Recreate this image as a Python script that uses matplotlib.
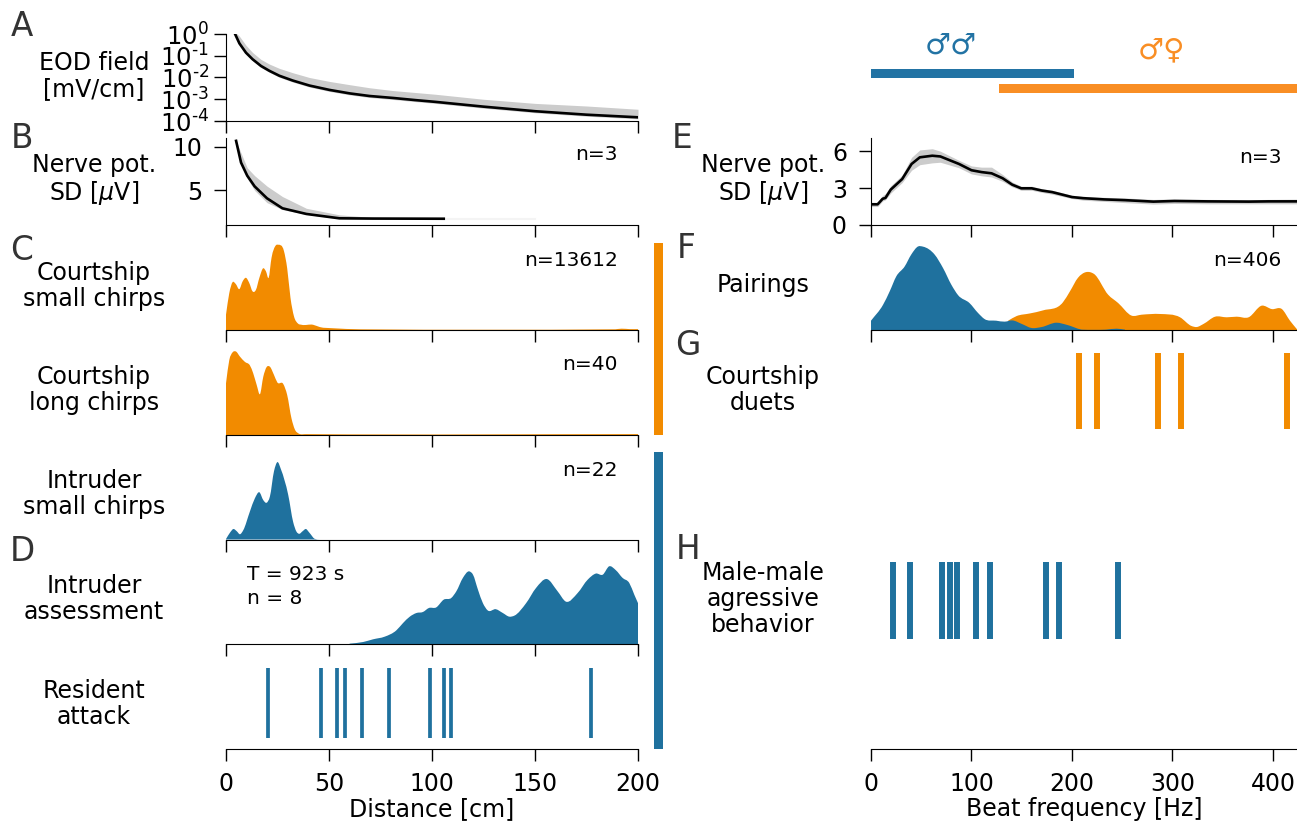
import numpy as np
import matplotlib
matplotlib.use('Agg')
import matplotlib.pyplot as plt
from matplotlib.path import Path
from matplotlib.patches import PathPatch

blue = '#1f719e'
orange = '#f28b00'
grey = '#cccccc'
W, H = 1297., 822.

# A: EOD field, log10 values
eod_x = [4.4, 6.5, 9.7, 12.9, 17, 21, 25.9, 32.4, 40.5, 50.2, 60, 69.6, 81, 92, 101.6, 125, 150, 175, 200]
eod_log = [0, -0.43, -0.86, -1.16, -1.47, -1.69, -1.92, -2.14, -2.37, -2.57, -2.73, -2.85, -2.94, -3.04, -3.12, -3.34, -3.55, -3.71, -3.83]
eod_log_hi = [0.1, -0.1, -0.52, -0.85, -1.17, -1.38, -1.58, -1.78, -2.0, -2.18, -2.33, -2.47, -2.6, -2.69, -2.77, -3.0, -3.19, -3.31, -3.46]
eod_log_lo = [0, -0.5, -0.93, -1.23, -1.54, -1.76, -1.99, -2.21, -2.44, -2.64, -2.8, -2.92, -3.01, -3.11, -3.19, -3.41, -3.62, -3.78, -3.9]
eod_labels = ['$\\mathdefault{10}^{\\mathdefault{0}}$', '$\\mathdefault{10}^{\\text{-1}}$',
              '$\\mathdefault{10}^{\\text{-2}}$', '$\\mathdefault{10}^{\\text{-3}}$',
              '$\\mathdefault{10}^{\\text{-4}}$']

# B: nerve potential vs distance
pot_x = [4.9, 7.3, 10.3, 13.9, 19.9, 27.4, 39, 55, 71, 105.7]
pot_y = [10.7, 8.2, 6.7, 5.47, 4.1, 2.95, 2.3, 1.8, 1.77, 1.75]
pot_hi = [10.7, 9.3, 7.6, 6.7, 5.5, 4.3, 2.95, 2.2, 1.9, 1.75]
pot_lo = [10.7, 8.0, 6.4, 5.0, 3.6, 2.8, 2.25, 1.75, 1.72, 1.72]
tail_x = [105.7, 150]
tail_y = [1.75, 1.75]

# E: nerve potential vs beat frequency
beat_x = [0, 6.6, 11.6, 14.4, 19.7, 31, 40.4, 48.6, 61, 69, 87.6, 100, 110, 120, 131, 140.5, 149.5, 160, 170, 180.5, 200, 211, 232, 252.5, 281, 302, 335, 376, 396, 424]
beat_y = [1.68, 1.68, 2.13, 2.2, 2.88, 3.73, 4.96, 5.5, 5.63, 5.57, 4.96, 4.45, 4.3, 4.2, 3.8, 3.28, 2.98, 2.98, 2.8, 2.67, 2.27, 2.18, 2.08, 2.02, 1.9, 1.95, 1.92, 1.9, 1.92, 1.92]
beat_hi = [1.85, 1.85, 2.4, 2.55, 3.2, 4.05, 5.5, 6.1, 6.2, 6.0, 5.25, 4.8, 4.7, 4.7, 4.1, 3.5, 3.15, 3.15, 2.95, 2.82, 2.42, 2.33, 2.25, 2.2, 2.08, 2.12, 2.08, 2.06, 2.08, 2.1]
beat_lo = [1.5, 1.5, 1.95, 2.05, 2.6, 3.45, 4.45, 4.9, 5.05, 5.1, 4.65, 4.15, 4.0, 3.9, 3.55, 3.1, 2.82, 2.82, 2.65, 2.5, 2.15, 2.02, 1.92, 1.82, 1.7, 1.75, 1.72, 1.72, 1.72, 1.72]

# C
small_x = [0, 1.6, 3.2, 4.7, 6.5, 8.1, 9.7, 11.3, 12.9, 14.5, 16.2, 18.1, 19.4, 20.7, 22.1, 24.2, 25.4, 28.1, 29.7, 31.3, 33, 35, 36.7, 42.3, 45.5, 52, 65, 189, 192, 196, 200]
small_y = [.176, .425, .55, .53, .47, .56, .60, .54, .444, .46, .60, .71, .674, .60, .83, .973, .98, .91, .71, .37, .157, .073, .06, .06, .034, .02, .008, .008, .015, .01, .01]
long_x = [0, 1.6, 3.2, 4.8, 6.8, 9.2, 11.6, 13.2, 14.9, 16.5, 18.1, 19.7, 21.3, 23.3, 24.9, 27.8, 29.7, 31.8, 33.4, 35.4, 39, 200]
long_y = [.594, .862, .95, .96, .90, .84, .80, .71, .575, .47, .67, .78, .785, .69, .605, .586, .46, .19, .065, .015, .01, .01]
intr_x = [0, 1.9, 3.6, 5.2, 6.8, 8.4, 11.6, 14, 16.2, 18.1, 19.7, 21.3, 23.3, 25, 26.7, 30.2, 32.6, 34.2, 35.5, 37.2, 38.8, 40.4, 43, 45.5]
intr_y = [.005, .077, .12, .095, .06, .107, .32, .47, .54, .45, .42, .49, .78, .885, .80, .51, .20, .09, .065, .095, .12, .08, .008, 0]
assess_x = [60, 66.6, 71.4, 77, 82.7, 85.9, 89.2, 92.4, 95.6, 98.5, 102, 105.7, 109.4, 111.8, 115, 117.9, 119.9, 122.3, 124.7, 127, 131, 134.4, 137.6, 140, 145.7, 150.5, 155.7, 161, 165, 170.7, 175.6, 179.6, 182.9, 186, 189.3, 192.5, 195.8, 198.2, 200]
assess_y = [.004, .023, .054, .084, .157, .24, .314, .356, .368, .414, .42, .51, .53, .605, .76, .835, .797, .625, .47, .387, .40, .356, .314, .326, .47, .644, .747, .605, .487, .586, .74, .81, .797, .893, .847, .76, .70, .567, .47]
attack_x = [20.2, 46, 54, 58, 66, 79, 99, 106, 109, 177]

# F
pair_blue_x = [0, 12, 18.6, 25.2, 33.5, 40, 46.8, 51.8, 63.4, 71.8, 80, 86.7, 98, 106.6, 113, 124.6, 133, 141, 150, 159.8, 169.8, 184.7, 194.7, 209.6, 234, 244.5, 252.8]
pair_blue_y = [.107, .29, .444, .617, .73, .866, .96, .958, .866, .71, .52, .40, .31, .195, .126, .107, .096, .11, .07, .023, .034, .084, .06, .004, .004, .015, .004]
pair_or_x = [136.5, 144.9, 158, 171.4, 191, 198, 206, 222, 236, 246, 259.4, 269.4, 287.7, 307.6, 319, 324, 331, 342.5, 354, 364, 375.8, 389, 399, 409, 417, 424]
pair_or_y = [.107, .16, .19, .226, .318, .444, .60, .644, .406, .31, .165, .176, .184, .146, .046, .034, .07, .153, .146, .153, .146, .28, .24, .24, .107, .008]
duets_x = [206.6, 225, 286, 309, 414]
male_x = [21.5, 39, 70.6, 78.6, 85.7, 104.6, 118, 174, 187.5, 245.6]

male_range = [0, 202]
mixed_range = [127, 424]
dist_ticks = [0, 50, 100, 150, 200]
beat_ticks = [0, 100, 200, 300, 400]

plt.rcParams['font.size'] = 17
plt.rcParams['mathtext.fontset'] = 'dejavusans'
fig = plt.figure(figsize=(W / 100, H / 100), dpi=100)


def add_ax(left, top, right, bottom):
    ax = fig.add_axes([left / W, 1 - bottom / H, (right - left) / W, (bottom - top) / H])
    ax.patch.set_alpha(0)
    for s in ['top', 'right']:
        ax.spines[s].set_visible(False)
    ax.tick_params(length=8.3, width=1)
    ax.tick_params(axis='y', pad=9)
    ax.tick_params(axis='x', pad=8)
    return ax


def ftext(x, y, s, **kw):
    kw.setdefault('ha', 'center')
    kw.setdefault('va', 'center')
    fig.text(x / W, 1 - y / H, s, **kw)


def x_axis(ax, xlim, ticks, labels=False, left=False):
    ax.set_xlim(xlim)
    ax.set_xticks(ticks)
    if not labels:
        ax.set_xticklabels([])
    ax.spines['left'].set_visible(left)
    if not left:
        ax.set_yticks([])


def smooth_fill(ax, xs, ys, color):
    # filled outline through the read points, drawn with bezier segments
    xs = np.array(xs, dtype=float)
    ys = np.array(ys, dtype=float)
    m = np.gradient(ys, xs)
    verts = [(xs[0], 0), (xs[0], ys[0])]
    codes = [Path.MOVETO, Path.LINETO]
    for i in range(len(xs) - 1):
        d = (xs[i + 1] - xs[i]) / 3
        verts += [(xs[i] + d, max(ys[i] + m[i] * d, 0)),
                  (xs[i + 1] - d, max(ys[i + 1] - m[i + 1] * d, 0)),
                  (xs[i + 1], ys[i + 1])]
        codes += [Path.CURVE4] * 3
    verts += [(xs[-1], 0), (xs[0], 0)]
    codes += [Path.LINETO, Path.CLOSEPOLY]
    ax.add_patch(PathPatch(Path(verts, codes), facecolor=color, lw=0))


L = (226, 638)
R = (871, 1297)
dist_lim = (0, 200)
beat_lim = (0, 424)

# panel A
ax = add_ax(L[0], 34, L[1], 121)
ax.fill_between(eod_x, 10.0 ** np.array(eod_log_lo), 10.0 ** np.array(eod_log_hi), color=grey, lw=0)
ax.plot(eod_x, 10.0 ** np.array(eod_log), color='k', lw=1.9)
ax.set_yscale('log')
ax.set_ylim(1e-4, 1)
ax.set_yticks([1, 1e-1, 1e-2, 1e-3, 1e-4])
ax.set_yticklabels(eod_labels)
ax.minorticks_off()
x_axis(ax, dist_lim, dist_ticks, left=True)
ax.tick_params(axis='y', labelsize=17.5, pad=4)

# panel B
ax = add_ax(L[0], 138, L[1], 225)
ax.fill_between(pot_x, pot_lo, pot_hi, color=grey, lw=0)
ax.plot(tail_x, tail_y, color='#f4f4f4', lw=1.5)
ax.plot(pot_x, pot_y, color='k', lw=1.9)
ax.set_ylim(1.03, 11.03)
ax.set_yticks([5, 10])
x_axis(ax, dist_lim, dist_ticks, left=True)

# panels C, D
dist_kdes = [(243, 330, small_x, small_y, orange),
             (348, 435, long_x, long_y, orange),
             (452, 539.5, intr_x, intr_y, blue),
             (557, 644, assess_x, assess_y, blue)]
for top, bottom, xs, ys, col in dist_kdes:
    ax = add_ax(L[0], top, L[1], bottom)
    smooth_fill(ax, xs, ys, col)
    ax.set_ylim(0, 1)
    x_axis(ax, dist_lim, dist_ticks)

ax = add_ax(L[0], 662, L[1], 749)
ax.vlines(attack_x, 0.13, 0.93, color=blue, lw=2.7, capstyle='butt')
ax.set_ylim(0, 1)
x_axis(ax, dist_lim, dist_ticks, labels=True)
ax.set_xlabel('Distance [cm]', labelpad=1)

# side bars
for top, bottom, col in [(243, 435, orange), (452, 749, blue)]:
    ax = add_ax(654, top, 663, bottom)
    ax.set_facecolor(col)
    ax.patch.set_alpha(1)
    ax.set_xticks([])
    ax.set_yticks([])
    for s in ax.spines.values():
        s.set_visible(False)

# top bars
ax = add_ax(R[0], 66, R[1], 96)
ax.barh([1], [male_range[1] - male_range[0]], left=male_range[0], height=0.6, color='#2273a4')
ax.barh([0], [mixed_range[1] - mixed_range[0]], left=mixed_range[0], height=0.6, color='#f98e24')
ax.set_xlim(beat_lim)
ax.set_ylim(-0.5, 1.5)
ax.axis('off')

# panel E
ax = add_ax(R[0], 138, R[1], 225)
ax.fill_between(beat_x, beat_lo, beat_hi, color=grey, lw=0)
ax.plot(beat_x, beat_y, color='k', lw=1.9)
ax.set_ylim(0, 7.07)
ax.set_yticks([0, 3, 6])
x_axis(ax, beat_lim, beat_ticks, left=True)

# panel F
ax = add_ax(R[0], 243, R[1], 330)
smooth_fill(ax, pair_or_x, pair_or_y, orange)
smooth_fill(ax, pair_blue_x, pair_blue_y, blue)
ax.set_ylim(0, 1)
x_axis(ax, beat_lim, beat_ticks)

# panel G
ax = add_ax(R[0], 348, R[1], 435)
ax.vlines(duets_x, 0.07, 0.94, color=orange, lw=4.3, capstyle='butt')
ax.set_xlim(beat_lim)
ax.set_ylim(0, 1)
ax.axis('off')

# panel H
ax = add_ax(R[0], 557, R[1], 644)
ax.vlines(male_x, 0.06, 0.94, color=blue, lw=4.3, capstyle='butt')
ax.set_xlim(beat_lim)
ax.set_ylim(0, 1)
ax.axis('off')

ax = add_ax(R[0], 662, R[1], 749)
ax.set_ylim(0, 1)
x_axis(ax, beat_lim, beat_ticks, labels=True)
ax.set_xlabel('Beat frequency [Hz]', labelpad=1)

# texts
for x, y, s in [(22, 26, 'A'), (22, 139, 'B'), (22, 251, 'C'), (22, 551, 'D'),
                (682, 139, 'E'), (686, 249, 'F'), (688, 345, 'G'), (688, 549, 'H')]:
    ftext(x, y, s, fontsize=23.5, color='#333333')

for x, y, s in [(94, 76, 'EOD field\n[mV/cm]'), (94, 180, 'Nerve pot.\nSD [$\\mu$V]'),
                (94, 286, 'Courtship\nsmall chirps'), (94, 390, 'Courtship\nlong chirps'),
                (94, 494, 'Intruder\nsmall chirps'), (94, 599, 'Intruder\nassessment'),
                (94, 704, 'Resident\nattack'), (763, 180, 'Nerve pot.\nSD [$\\mu$V]'),
                (763, 285, 'Pairings'), (763, 390, 'Courtship\nduets'),
                (763, 599, 'Male-male\nagressive\nbehavior')]:
    ftext(x, y, s, linespacing=1.08)

for x, y, s in [(618, 155, 'n=3'), (618, 261, 'n=13612'), (618, 365, 'n=40'), (618, 470, 'n=22'),
                (1282, 157, 'n=3'), (1281, 261, 'n=406')]:
    ftext(x, y, s, ha='right', fontsize=14.5)
ftext(247, 575, 'T = 923 s', ha='left', fontsize=14.5)
ftext(247, 598, 'n = 8', ha='left', fontsize=14.5)

ftext(951, 46, '\u2642\u2642', fontsize=21, color='#2273a4')
ftext(1161, 50, '\u2642\u2640', fontsize=21, color='#f98e24')

fig.savefig('out.png', dpi=100)
